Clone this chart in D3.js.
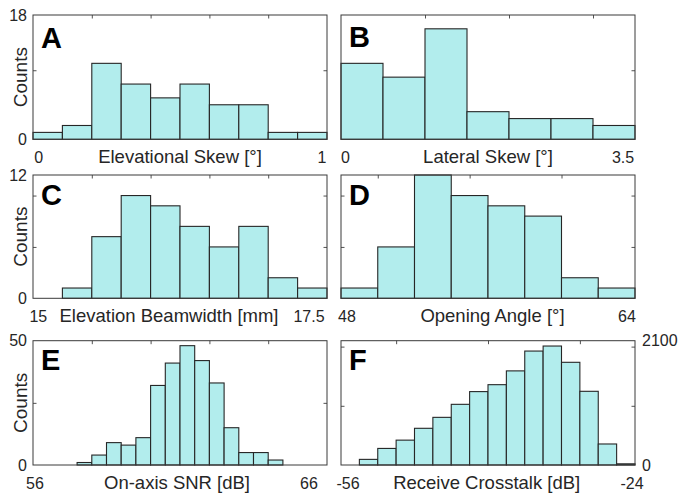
<!DOCTYPE html>
<html>
<head>
<meta charset="utf-8">
<script src="https://cdn.jsdelivr.net/npm/d3@7"></script>
<style>
  body { margin: 0; background: #fff; }
  text { font-family: "Liberation Sans", Arial, sans-serif; fill: #262626; }
</style>
</head>
<body>
<div id="chart"></div>
<script>

// ---- data ----
var panelLetters = ["A", "B", "C", "D", "E", "F"];
var xTitles = ["Elevational Skew [°]", "Lateral Skew [°]", "Elevation Beamwidth [mm]",
               "Opening Angle [°]", "On-axis SNR [dB]", "Receive Crosstalk [dB]"];

var elevSkewCounts   = [1, 2, 11, 8, 6, 8, 5, 5, 1, 1];
var latSkewCounts    = [11, 9, 16, 4, 3, 3, 2];
var elevBwCounts     = [0, 1, 6, 10, 9, 7, 5, 7, 2, 1];
var openAngleCounts  = [1, 5, 12, 10, 9, 8, 2, 1];
var snrCounts        = [0, 0, 0, 1, 4, 9, 8, 11, 32, 41, 48, 42, 33, 15, 5, 5, 2, 0, 0, 0];
var crosstalkCounts  = [0, 95, 280, 420, 620, 805, 1025, 1240, 1357, 1590, 1925, 2010, 1735, 1245, 355, 20];

var allCounts = [elevSkewCounts, latSkewCounts, elevBwCounts, openAngleCounts, snrCounts, crosstalkCounts];
var binStarts = [0, 0, 15, 48, 56, -56];
var binSteps  = [0.1, 0.5, 0.25, 2, 0.5, 2];
var xLimits   = [[0, 1], [0, 3.5], [15, 17.5], [48, 64], [56, 66], [-56, -24]];
var xTicks    = [[0.2, 0.4, 0.6, 0.8], [1, 2, 3], [15.5, 16, 16.5, 17], [50, 55, 60], [58, 60, 62, 64], [-50, -40, -30]];
var xTickLabels = [["0", "1"], ["0", "3.5"], ["15", "17.5"], ["48", "64"], ["56", "66"], ["-56", "-24"]];
var yMax      = [18, 18, 12, 12, 50, 2100];
var yTicks    = [[10], [10], [5, 10], [5, 10], [25], [1000, 2000]];
var yTickLabels = [["0", "18"], null, ["0", "12"], null, ["0", "50"], ["0", "2100"]];

// ---- layout ----
var W = 691, H = 494;
var colLeft = [33, 341], colRight = [327, 635];
var rowTop = [15, 175, 340.7], rowBottom = [139.3, 298.3, 465];
// centre offsets of the end labels from the axes edges
var leftLabelDx  = [5.7, 4.5, 5.3, 6, 2, 7];
var rightLabelDx = [-5, -12, -18, -8, -18, -3];
var titleDx = [0, 0, -11, 4.5, -3, -1.3];
var letterDy = [33, 32, 29.5, 29.5, 29.5, 29.5];

var fill = "#b2eded", edge = "#262626";

var svg = d3.select("#chart").append("svg")
    .attr("width", W).attr("height", H);
svg.append("rect").attr("width", W).attr("height", H).attr("fill", "#fff");

panelLetters.forEach(function(letter, i) {
  var col = i % 2, row = Math.floor(i / 2);
  var left = colLeft[col], right = colRight[col], top = rowTop[row], bottom = rowBottom[row];

  var x = d3.scaleLinear().domain(xLimits[i]).range([left, right]);
  var y = d3.scaleLinear().domain([0, yMax[i]]).range([bottom, top]);
  var g = svg.append("g");

  // ticks, inward, on all four sides (box on)
  var tl = 3.5;
  var xAxisTop = d3.axisBottom(x).tickValues(xTicks[i]).tickSize(tl).tickFormat("");
  var xAxisBot = d3.axisTop(x).tickValues(xTicks[i]).tickSize(tl).tickFormat("");
  var yAxisL = d3.axisRight(y).tickValues(yTicks[i]).tickSize(tl).tickFormat("");
  var yAxisR = d3.axisLeft(y).tickValues(yTicks[i]).tickSize(tl).tickFormat("");
  [[xAxisTop, "translate(0," + top + ")"], [xAxisBot, "translate(0," + bottom + ")"],
   [yAxisL, "translate(" + left + ",0)"], [yAxisR, "translate(" + right + ",0)"]].forEach(function(a) {
    var ax = g.append("g").attr("transform", a[1]).call(a[0]);
    ax.select(".domain").remove();
    ax.selectAll("line").attr("stroke", edge).attr("stroke-width", 0.8);
  });

  // bars
  var bins = allCounts[i].map(function(c, k) {
    return { x0: binStarts[i] + k * binSteps[i], x1: binStarts[i] + (k + 1) * binSteps[i], n: c };
  });
  g.selectAll(".bar").data(bins).enter().append("rect")
    .attr("class", "bar")
    .attr("x", function(d) { return x(d.x0); })
    .attr("width", function(d) { return x(d.x1) - x(d.x0); })
    .attr("y", function(d) { return y(d.n); })
    .attr("height", function(d) { return y(0) - y(d.n); })
    .attr("fill", fill)
    .attr("stroke", edge)
    .attr("stroke-width", 1.1);

  // box
  g.append("rect")
    .attr("x", left).attr("y", top)
    .attr("width", right - left).attr("height", bottom - top)
    .attr("fill", "none").attr("stroke", "#3a3a3a").attr("stroke-width", 1);

  // panel letter
  g.append("text")
    .attr("x", left + 8).attr("y", top + letterDy[i])
    .style("font-size", "29px").style("font-weight", "bold").style("fill", "#000")
    .text(letter);

  // x end labels and title
  var baseY = bottom + 23.5;
  g.append("text").attr("x", left + leftLabelDx[i]).attr("y", baseY)
    .attr("text-anchor", "middle").style("font-size", "16px").text(xTickLabels[i][0]);
  g.append("text").attr("x", right + rightLabelDx[i]).attr("y", baseY)
    .attr("text-anchor", "middle").style("font-size", "16px").text(xTickLabels[i][1]);
  g.append("text").attr("x", (left + right) / 2 + titleDx[i]).attr("y", baseY)
    .attr("text-anchor", "middle").style("font-size", "18.5px").text(xTitles[i]);

  // y labels
  if (yTickLabels[i]) {
    var onRight = col === 1;
    var lx = onRight ? right + 7 : left - 6;
    [0, yMax[i]].forEach(function(v, k) {
      g.append("text").attr("x", lx).attr("y", y(v))
        .attr("dy", "0.35em")
        .attr("text-anchor", onRight ? "start" : "end")
        .style("font-size", "16px")
        .text(yTickLabels[i][k]);
    });
    if (!onRight) {
      g.append("text")
        .attr("transform", "translate(20," + (top + bottom) / 2 + ") rotate(-90)")
        .attr("text-anchor", "middle").attr("dy", "0.35em")
        .style("font-size", "19px")
        .text("Counts");
    }
  }
});

</script>
</body>
</html>
